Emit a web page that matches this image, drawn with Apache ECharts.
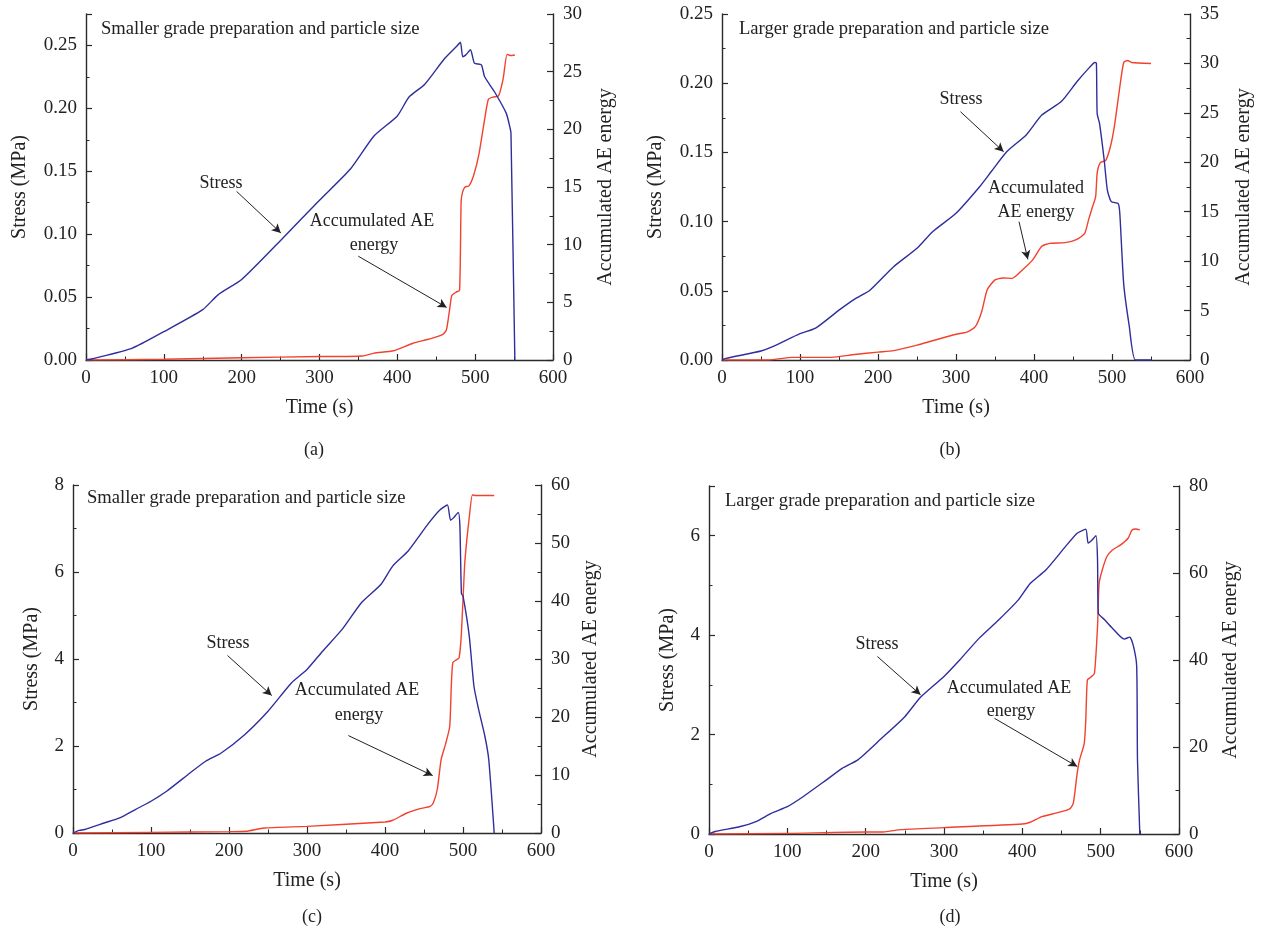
<!DOCTYPE html>
<html>
<head>
<meta charset="utf-8">
<script src="https://cdn.jsdelivr.net/npm/echarts@6/dist/echarts.min.js"></script>
<style>html,body{margin:0;padding:0;background:#fff;}#c{width:1261px;height:938px;}</style>
</head>
<body>
<div id="c"></div>
<script>
// ---------- data: [time (s), value] ----------
var stressA = [[0,0],[8,0.001],[59,0.0093],[100,0.0225],[150,0.040],[170,0.052],[200,0.064],[250,0.095],[300,0.127],[340,0.152],[370,0.178],[400,0.194],[415,0.209],[435,0.219],[460,0.239],[475,0.2485],[481,0.2525],[484,0.241],[488,0.2425],[494,0.2466],[499,0.236],[508,0.2346],[512,0.2253],[525,0.213],[540,0.196],[545,0.184],[546,0.18],[551,0]];
var aeA = [[0,0],[100,0.06],[200,0.2],[300,0.3],[355,0.35],[370,0.6],[395,0.8],[420,1.45],[440,1.8],[458,2.2],[463,2.6],[467,4.3],[470,5.6],[476,5.9],[480,6.05],[482,13.8],[484,14.6],[487,15.0],[492,15.1],[498,16.0],[505,17.9],[512,20.8],[517,22.6],[523,22.8],[530,22.9],[536,24.4],[541,26.5],[545,26.4],[551,26.45]];

var stressB = [[0,0],[5,0.0012],[50,0.0065],[65,0.0096],[100,0.019],[120,0.023],[150,0.036],[170,0.044],[190,0.0506],[220,0.0674],[250,0.0807],[270,0.0927],[300,0.106],[330,0.125],[345,0.136],[365,0.1505],[390,0.1626],[410,0.177],[435,0.1867],[455,0.201],[470,0.2107],[478,0.215],[480,0.2144],[481,0.178],[484,0.171],[490,0.1445],[494,0.123],[499,0.1144],[508,0.113],[510,0.106],[515,0.055],[522,0.025],[530,0],[550,0]];
var aeB = [[0,0],[60,0],[90,0.27],[140,0.27],[170,0.55],[200,0.8],[220,0.95],[250,1.5],[270,1.95],[300,2.6],[315,2.85],[325,3.4],[333,4.9],[340,7.1],[350,8.1],[360,8.3],[372,8.26],[385,9.1],[398,10.1],[410,11.5],[420,11.8],[440,11.87],[455,12.2],[465,12.8],[470,14.2],[475,15.5],[479,16.5],[481,18.9],[485,19.96],[492,20.2],[498,21.6],[503,23.6],[510,27.6],[515,30.1],[520,30.3],[525,30.1],[550,30.0]];

var stressC = [[0,0],[8,0.06],[15,0.08],[40,0.23],[60,0.35],[80,0.54],[100,0.73],[120,0.96],[150,1.38],[170,1.65],[190,1.84],[220,2.26],[250,2.8],[280,3.45],[300,3.76],[320,4.18],[345,4.68],[370,5.3],[395,5.72],[410,6.14],[430,6.49],[455,7.1],[470,7.42],[480,7.54],[484,7.19],[488,7.25],[494,7.37],[496,7.06],[498,5.5],[500,5.45],[508,4.53],[514,3.38],[520,2.84],[528,2.23],[533,1.69],[540,0]];
var aeC = [[0,0],[100,0.1],[200,0.23],[222,0.29],[245,0.86],[300,1.15],[400,1.9],[410,2.2],[428,3.45],[445,4.2],[458,4.6],[462,5.2],[467,7.5],[472,12.7],[478,15.5],[483,18.4],[485,25.3],[487,29.4],[492,29.9],[495,30.2],[498,34.5],[502,46],[505,50.7],[508,54.4],[512,58.3],[515,58.2],[540,58.2]];

var stressD = [[0,0],[8,0.05],[40,0.15],[60,0.25],[80,0.42],[100,0.55],[120,0.75],[150,1.09],[170,1.32],[190,1.49],[220,1.92],[250,2.36],[270,2.75],[300,3.17],[320,3.5],[345,3.94],[370,4.31],[395,4.71],[410,5.04],[430,5.31],[455,5.78],[470,6.05],[481,6.13],[484,5.85],[488,5.9],[494,6.0],[496,5.51],[497,4.44],[505,4.31],[515,4.14],[530,3.92],[537,3.96],[542,3.77],[546,3.37],[547,1.49],[550,0]];
var aeD = [[0,0],[100,0.15],[200,0.46],[222,0.46],[245,1.0],[300,1.46],[400,2.3],[410,2.7],[425,4.0],[445,4.9],[460,5.7],[465,7.05],[470,13.95],[473,17],[479,20.8],[481,26.2],[483,35.4],[487,36],[492,36.9],[496,47.7],[498,57.6],[502,60.7],[508,63.8],[515,65.3],[525,66.4],[535,68],[540,69.9],[545,70.1],[550,69.9]];

// axis ranges
var stressMax = [0.275, 0.25, 8, 7];
var stressStep = [0.05, 0.05, 2, 2];
var aeMax = [30, 35, 60, 80];
var aeStep = [5, 5, 10, 20];
var titles = ['Smaller grade preparation and particle size','Larger grade preparation and particle size','Smaller grade preparation and particle size','Larger grade preparation and particle size'];
var captions = ['(a)','(b)','(c)','(d)'];
// annotation arrows [fromT, fromV, toT, toV]
var stressArrows = [[193.5,0.134,250.3,0.101],[305.7,0.1794,361.1,0.1505],[198.1,4.08,254.8,3.16],[215,3.57,270.1,2.80]];
var aeArrows = [[349.8,9.0,463.4,4.56],[380.8,13.99,392.1,10.18],[353,16.8,461.1,9.9],[364.4,26.6,470.1,15.5]];

var stressData = [stressA, stressB, stressC, stressD];
var aeData = [aeA, aeB, aeC, aeD];

// ---------- layout ----------
var grids = [
  {left:86, top:14, width:467, height:346},
  {left:722, top:14, width:468, height:346},
  {left:73, top:485, width:468, height:348},
  {left:709, top:486, width:470, height:348}
];
var leftNameGap = [56, 56, 31, 31];
var rightNameGap = [43, 44, 40, 42];
var FONT = '"Liberation Serif", "DejaVu Serif", serif';
var AX = '#2a2a2a';
var TXT = '#222';
var BLUE = '#2e2e9c';
var RED = '#f2412e';

var option = {
  backgroundColor:'#fff',
  animation:false,
  grid: grids.map(function(g){ return Object.assign({outerBoundsMode:'none', containLabel:false}, g); }),
  xAxis: [], yAxis: [], series: [], graphic: []
};

function fmt(step){ return function(v){ return step < 1 ? v.toFixed(2) : String(Math.round(v)); }; }

for (var i=0;i<4;i++){
  var tickCommon = {show:true, inside:true, length:6, lineStyle:{color:AX, width:1.2}};
  var minorCommon = {show:true, splitNumber:2, length:3.5, lineStyle:{color:AX, width:1}};
  option.xAxis.push({
    type:'value', gridIndex:i, min:0, max:600, interval:100,
    name:'Time (s)', nameLocation:'middle', nameGap:38,
    nameTextStyle:{fontFamily:FONT, fontSize:20, color:TXT},
    axisLine:{show:true, onZero:false, lineStyle:{color:AX, width:1.4}},
    axisTick: tickCommon, minorTick: minorCommon,
    axisLabel:{fontFamily:FONT, fontSize:19, color:TXT, margin:9},
    splitLine:{show:false}
  });
  option.yAxis.push({
    type:'value', gridIndex:i, position:'left', min:0, max:stressMax[i], interval:stressStep[i],
    name:'Stress (MPa)', nameLocation:'middle', nameGap:leftNameGap[i],
    nameTextStyle:{fontFamily:FONT, fontSize:20, color:TXT},
    axisLine:{show:true, onZero:false, lineStyle:{color:AX, width:1.4}},
    axisTick: tickCommon, minorTick: minorCommon,
    axisLabel:{fontFamily:FONT, fontSize:19, color:TXT, margin:9, showMaxLabel: (i===1||i===2), formatter: fmt(stressStep[i])},
    splitLine:{show:false}
  });
  option.yAxis.push({
    type:'value', gridIndex:i, position:'right', min:0, max:aeMax[i], interval:aeStep[i],
    name:'Accumulated AE energy', nameLocation:'middle', nameGap:rightNameGap[i], nameRotate:90,
    nameTextStyle:{fontFamily:FONT, fontSize:20, color:TXT},
    axisLine:{show:true, onZero:false, lineStyle:{color:AX, width:1.4}},
    axisTick: tickCommon, minorTick: minorCommon,
    axisLabel:{fontFamily:FONT, fontSize:19, color:TXT, margin:10},
    splitLine:{show:false}
  });
  var sa = stressArrows[i], aa = aeArrows[i];
  option.series.push({
    type:'line', xAxisIndex:i, yAxisIndex:2*i, data:stressData[i], showSymbol:false,
    smooth:0.2,
    lineStyle:{color:BLUE, width:1.4}, itemStyle:{color:BLUE}, z:3,
    markLine:{silent:true, symbol:['none','arrow'], symbolSize:[7,9], label:{show:false},
      lineStyle:{color:'#222', width:1, type:'solid'},
      data:[[{coord:[sa[0],sa[1]]},{coord:[sa[2],sa[3]]}]]}
  });
  option.series.push({
    type:'line', xAxisIndex:i, yAxisIndex:2*i+1, data:aeData[i], showSymbol:false,
    smooth:0.2,
    lineStyle:{color:RED, width:1.4}, itemStyle:{color:RED}, z:2,
    markLine:{silent:true, symbol:['none','arrow'], symbolSize:[7,9], label:{show:false},
      lineStyle:{color:'#222', width:1, type:'solid'},
      data:[[{coord:[aa[0],aa[1]]},{coord:[aa[2],aa[3]]}]]}
  });
}

// texts
var titlePos = [[101,29],[739,29],[87,498],[725,501]];
var stressTextPos = [[221,183],[961,99],[228,643],[877,644]];
var aeTextPos = [[[372,221],[374,245]],[[1036,188],[1036,212]],[[357,690],[359,715]],[[1009,688],[1011,711]]];
var aeTextLines = [['Accumulated AE','energy'],['Accumulated','AE energy'],['Accumulated AE','energy'],['Accumulated AE','energy']];
var capPos = [[314,450],[950,450],[312,917],[950,917]];
for (var k=0;k<4;k++){
  option.graphic.push({type:'text', x:titlePos[k][0], y:titlePos[k][1], style:{text:titles[k], font:'18.6px '+FONT, fill:TXT, verticalAlign:'middle'}});
  option.graphic.push({type:'text', x:stressTextPos[k][0], y:stressTextPos[k][1], style:{text:'Stress', font:'18px '+FONT, fill:TXT, align:'center', verticalAlign:'middle'}});
  for (var j=0;j<2;j++){
    option.graphic.push({type:'text', x:aeTextPos[k][j][0], y:aeTextPos[k][j][1], style:{text:aeTextLines[k][j], font:'18px '+FONT, fill:TXT, align:'center', verticalAlign:'middle'}});
  }
  option.graphic.push({type:'text', x:capPos[k][0], y:capPos[k][1], style:{text:captions[k], font:'18px '+FONT, fill:TXT, align:'center', verticalAlign:'middle'}});
}

var chart = echarts.init(document.getElementById('c'), null, {renderer:'canvas'});
chart.setOption(option);
</script>
</body>
</html>
